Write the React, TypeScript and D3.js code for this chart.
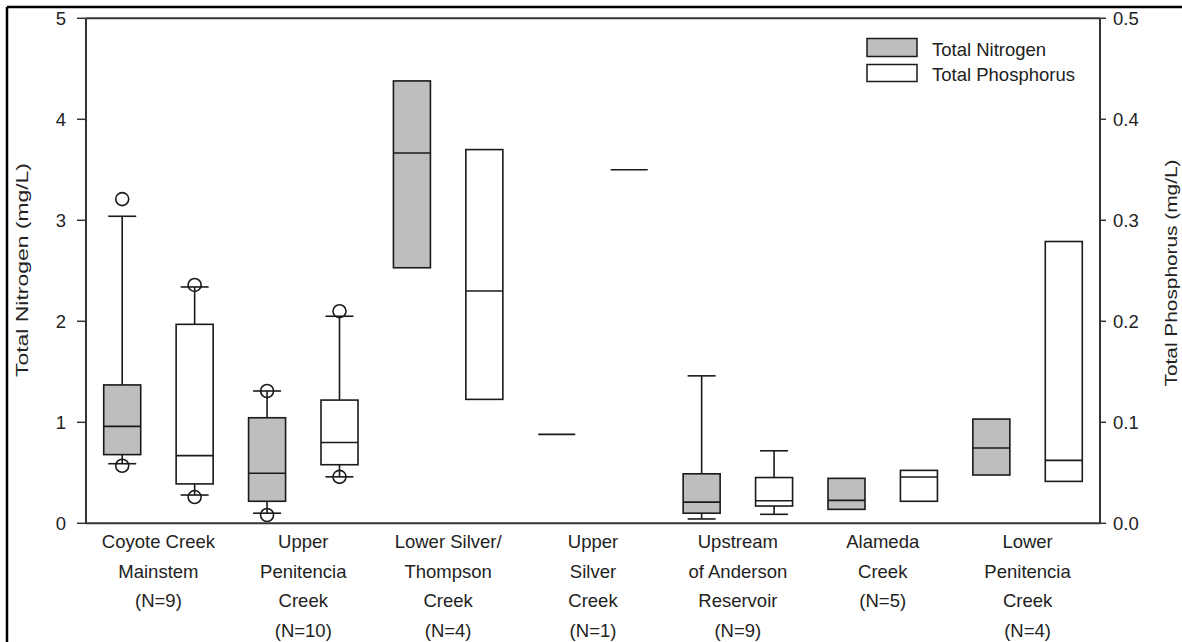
import React from "react";
import * as d3 from "d3";

const categoryLabels: string[][] = [
  ["Coyote Creek", "Mainstem", "(N=9)"],
  ["Upper", "Penitencia", "Creek", "(N=10)"],
  ["Lower Silver/", "Thompson", "Creek", "(N=4)"],
  ["Upper", "Silver", "Creek", "(N=1)"],
  ["Upstream", "of Anderson", "Reservoir", "(N=9)"],
  ["Alameda", "Creek", "(N=5)"],
  ["Lower", "Penitencia", "Creek", "(N=4)"],
];
const categories = categoryLabels.map((l) => l.join(" "));

// Total Nitrogen (mg/L)
const tnWhiskerLow: (number | null)[] = [0.59, 0.1, null, null, 0.043, null, null];
const tnQ1: (number | null)[] = [0.68, 0.218, 2.53, null, 0.1, 0.138, 0.478];
const tnMedian: number[] = [0.96, 0.495, 3.667, 0.88, 0.21, 0.227, 0.745];
const tnQ3: (number | null)[] = [1.37, 1.045, 4.38, null, 0.49, 0.445, 1.032];
const tnWhiskerHigh: (number | null)[] = [3.04, 1.31, null, null, 1.46, null, null];
const tnOutliers: number[][] = [[3.21, 0.57], [1.31, 0.082], [], [], [], [], []];

// Total Phosphorus (mg/L)
const tpWhiskerLow: (number | null)[] = [0.028, 0.046, null, null, 0.0089, null, null];
const tpQ1: (number | null)[] = [0.039, 0.058, 0.1227, null, 0.0171, 0.0218, 0.0415];
const tpMedian: number[] = [0.067, 0.08, 0.23, 0.35, 0.0224, 0.0458, 0.0623];
const tpQ3: (number | null)[] = [0.197, 0.122, 0.37, null, 0.0453, 0.0524, 0.279];
const tpWhiskerHigh: (number | null)[] = [0.234, 0.205, null, null, 0.0718, null, null];
const tpOutliers: number[][] = [[0.236, 0.026], [0.21, 0.046], [], [], [], [], []];

const tnTicks = [0, 1, 2, 3, 4, 5];
const tpTicks = [0, 0.1, 0.2, 0.3, 0.4, 0.5];

const W = 1182;
const H = 642;
const left = 86;
const right = 1100;
const top = 18.3;
const bottom = 523.3;
const FONT = "'Liberation Sans', Arial, sans-serif";
const AXIS = "#333";
const GRAY = "#bebebe";
const FS = 18.5;

export default function App() {
  const x = d3.scaleBand<string>().domain(categories).range([left, right]);
  const yN = d3.scaleLinear().domain([0, 5]).range([bottom, top]);
  const yP = d3.scaleLinear().domain([0, 0.5]).range([bottom, top]);
  const off = x.bandwidth() / 4;
  const boxW = 37;
  const capW = 28;

  const renderBox = (
    cx: number,
    y: d3.ScaleLinear<number, number>,
    wl: number | null,
    q1: number | null,
    med: number,
    q3: number | null,
    wh: number | null,
    outs: number[],
    fill: string,
    key: string
  ) => (
    <g key={key} stroke="#1a1a1a" strokeWidth={1.6}>
      {wh != null && q3 != null && (
        <>
          <line x1={cx} x2={cx} y1={y(q3)} y2={y(wh)} />
          <line x1={cx - capW / 2} x2={cx + capW / 2} y1={y(wh)} y2={y(wh)} />
        </>
      )}
      {wl != null && q1 != null && (
        <>
          <line x1={cx} x2={cx} y1={y(q1)} y2={y(wl)} />
          <line x1={cx - capW / 2} x2={cx + capW / 2} y1={y(wl)} y2={y(wl)} />
        </>
      )}
      {q1 != null && q3 != null && (
        <rect x={cx - boxW / 2} y={y(q3)} width={boxW} height={y(q1) - y(q3)} fill={fill} />
      )}
      <line x1={cx - boxW / 2} x2={cx + boxW / 2} y1={y(med)} y2={y(med)} />
      {outs.map((o, i) => (
        <circle key={i} cx={cx} cy={y(o)} r={6.5} fill="none" />
      ))}
    </g>
  );

  return (
    <svg
      width={W}
      height={H}
      style={{ position: "absolute", left: 0, top: 0, background: "#fff" }}
      fontFamily={FONT}
    >
      <rect x={0} y={0} width={W} height={H} fill="#fff" />
      {/* outer frame */}
      <line x1={7} x2={7} y1={7} y2={H} stroke="#000" strokeWidth={2.5} />
      <line x1={7} x2={W} y1={7} y2={7} stroke="#000" strokeWidth={2.5} />

      {/* boxes */}
      {categories.map((c, i) => {
        const cx = (x(c) as number) + x.bandwidth() / 2;
        return (
          <g key={c}>
            {renderBox(cx - off, yN, tnWhiskerLow[i], tnQ1[i], tnMedian[i], tnQ3[i], tnWhiskerHigh[i], tnOutliers[i], GRAY, "n")}
            {renderBox(cx + off, yP, tpWhiskerLow[i], tpQ1[i], tpMedian[i], tpQ3[i], tpWhiskerHigh[i], tpOutliers[i], "#fff", "p")}
          </g>
        );
      })}

      {/* plot frame */}
      <g stroke={AXIS} strokeWidth={2} fill="none">
        <line x1={left} x2={left} y1={top} y2={bottom} />
        <line x1={right} x2={right} y1={top} y2={bottom} />
        <line x1={left} x2={right} y1={top} y2={top} />
        <line x1={left} x2={right} y1={bottom} y2={bottom} />
      </g>

      {/* left axis */}
      {tnTicks.map((t) => (
        <g key={"l" + t}>
          <line x1={left - 9} x2={left} y1={yN(t)} y2={yN(t)} stroke={AXIS} strokeWidth={1.5} />
          <text x={66} y={yN(t)} dy="0.36em" textAnchor="end" fontSize={FS} fill="#222">
            {d3.format("d")(t)}
          </text>
        </g>
      ))}
      {/* right axis */}
      {tpTicks.map((t) => (
        <g key={"r" + t}>
          <line x1={right} x2={right + 6} y1={yP(t)} y2={yP(t)} stroke={AXIS} strokeWidth={1.5} />
          <text x={1113} y={yP(t)} dy="0.36em" textAnchor="start" fontSize={FS} fill="#222">
            {d3.format(".1f")(t)}
          </text>
        </g>
      ))}

      {/* axis titles */}
      <text
        transform="translate(28,270) rotate(-90)"
        textAnchor="middle"
        fontSize={17}
        fill="#222"
        textLength={214}
        lengthAdjust="spacingAndGlyphs"
      >
        Total Nitrogen (mg/L)
      </text>
      <text
        transform="translate(1177,273) rotate(-90)"
        textAnchor="middle"
        fontSize={17}
        fill="#222"
        textLength={227}
        lengthAdjust="spacingAndGlyphs"
      >
        Total Phosphorus (mg/L)
      </text>

      {/* category labels */}
      {categories.map((c, i) => {
        const cx = (x(c) as number) + x.bandwidth() / 2;
        return (
          <text key={"t" + c} x={cx} textAnchor="middle" fontSize={FS} fill="#222">
            {categoryLabels[i].map((line, j) => (
              <tspan key={j} x={cx} y={548 + j * 29.5}>
                {line}
              </tspan>
            ))}
          </text>
        );
      })}

      {/* legend */}
      <rect x={867} y={38.5} width={50} height={18} fill={GRAY} stroke="#1a1a1a" strokeWidth={1.5} />
      <rect x={867} y={64.5} width={50} height={17} fill="#fff" stroke="#1a1a1a" strokeWidth={1.5} />
      <text x={932} y={56} fontSize={FS} fill="#222">Total Nitrogen</text>
      <text x={932} y={81} fontSize={FS} fill="#222">Total Phosphorus</text>
    </svg>
  );
}
